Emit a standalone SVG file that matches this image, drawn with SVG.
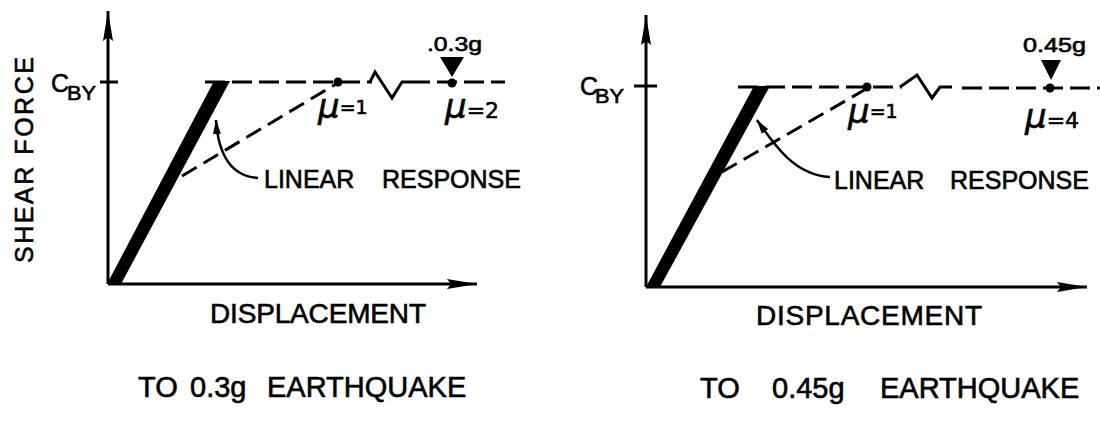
<svg xmlns="http://www.w3.org/2000/svg" width="1100" height="427" viewBox="0 0 1100 427">
<style>
text{font-family:"Liberation Sans",Arial,sans-serif;fill:#000;stroke:#000;stroke-width:0.6}
.lbl{font-size:25px}
.big{font-size:28px}
.cap{font-size:29px}
.mu{font-size:34px;font-style:italic;font-family:"DejaVu Sans","Liberation Sans",sans-serif}
.axis{stroke:#000;stroke-width:3;fill:none}
.dash{stroke:#000;stroke-width:3;fill:none;stroke-dasharray:20 7}
.ddash{stroke:#000;stroke-width:3;fill:none;stroke-dasharray:17 8}
.solid{stroke:#000;stroke-width:3;fill:none;stroke-linejoin:miter}
.curve{stroke:#000;stroke-width:2.5;fill:none}
</style>
<defs>
<marker id="ah" markerUnits="userSpaceOnUse" markerWidth="30" markerHeight="12" refX="30" refY="6" orient="auto">
<path d="M0,1 L30,6 L0,11 L4,6 z" fill="#000"/>
</marker>
<marker id="sm" markerUnits="userSpaceOnUse" markerWidth="14" markerHeight="10" refX="14" refY="5" orient="auto-start-reverse">
<path d="M0,1 L14,5 L0,9 z" fill="#000"/>
</marker>
</defs>
<rect width="1100" height="427" fill="#fff"/>

<g id="connectors">
<line class="axis" x1="108" y1="284" x2="108" y2="11" marker-end="url(#ah)"/>
<line class="axis" x1="108" y1="284" x2="477" y2="284" marker-end="url(#ah)"/>
<line class="axis" x1="100" y1="82" x2="118" y2="82"/>
<line class="axis" x1="646" y1="287" x2="646" y2="15" marker-end="url(#ah)"/>
<line class="axis" x1="646" y1="287" x2="1087" y2="287" marker-end="url(#ah)"/>
<line class="axis" x1="634" y1="86" x2="657" y2="86"/>
</g>

<g id="left-panel">
<text class="lbl" transform="translate(33,160) rotate(-90)" text-anchor="middle" textLength="206" lengthAdjust="spacing">SHEAR FORCE</text>
<text x="51" y="92" font-size="25">C</text>
<text x="67" y="100" font-size="20" textLength="29" lengthAdjust="spacingAndGlyphs">BY</text>
<polygon points="107,284 121,284 230,81 214,81" fill="#000"/>
<line class="dash" x1="205" y1="82" x2="372" y2="82"/>
<polyline class="solid" points="370,82 375,72 392,98 402,82 430,82"/>
<line class="dash" x1="437" y1="82" x2="505" y2="82"/>
<line class="ddash" x1="182" y1="176" x2="336" y2="84"/>
<circle cx="338" cy="82" r="4.5" fill="#000"/>
<circle cx="452" cy="83" r="4.5" fill="#000"/>
<polygon points="440,57 464,57 452,77" fill="#000"/>
<text x="427" y="51" font-size="20" textLength="55" lengthAdjust="spacingAndGlyphs">.0.3g</text>
<text class="mu" x="318" y="118">μ<tspan font-size="19" font-style="normal" dy="-4">=1</tspan></text>
<text class="mu" x="445" y="118">μ<tspan font-size="22" font-style="normal">=2</tspan></text>
<path class="curve" d="M216,120 C218,150 228,176 258,178" marker-start="url(#sm)"/>
<text class="lbl" y="188"><tspan x="264">LINEAR</tspan><tspan x="382">RESPONSE</tspan></text>
<text class="big" x="210" y="323" textLength="216" lengthAdjust="spacing">DISPLACEMENT</text>
<text class="cap" y="397"><tspan x="138">TO</tspan><tspan x="190">0.3g</tspan><tspan x="267">EARTHQUAKE</tspan></text>
</g>

<g id="right-panel">
<text x="580" y="95" font-size="25">C</text>
<text x="595" y="103" font-size="20" textLength="29" lengthAdjust="spacingAndGlyphs">BY</text>
<polygon points="646,287 660,287 770,86 754,86" fill="#000"/>
<line class="dash" x1="738" y1="87" x2="902" y2="87"/>
<polyline class="solid" points="900,87 917,75 932,98 940,87 952,87"/>
<line class="dash" x1="962" y1="88" x2="1100" y2="88"/>
<line class="ddash" x1="722" y1="172" x2="866" y2="89"/>
<circle cx="867" cy="87" r="4.5" fill="#000"/>
<circle cx="1050" cy="88" r="4.5" fill="#000"/>
<polygon points="1041,60 1061,60 1051,80" fill="#000"/>
<text x="1023" y="52" font-size="20" textLength="63" lengthAdjust="spacingAndGlyphs">0.45g</text>
<text class="mu" x="848" y="123">μ<tspan font-size="19" font-style="normal" dy="-5">=1</tspan></text>
<text class="mu" x="1025" y="128">μ<tspan font-size="22" font-style="normal">=4</tspan></text>
<path class="curve" d="M757,120 C775,146 795,175 830,177" marker-start="url(#sm)"/>
<text class="lbl" y="189"><tspan x="834">LINEAR</tspan><tspan x="950">RESPONSE</tspan></text>
<text class="big" x="756" y="325" textLength="226" lengthAdjust="spacing">DISPLACEMENT</text>
<text class="cap" y="398"><tspan x="700">TO</tspan><tspan x="772">0.45g</tspan><tspan x="880">EARTHQUAKE</tspan></text>
</g>
</svg>
